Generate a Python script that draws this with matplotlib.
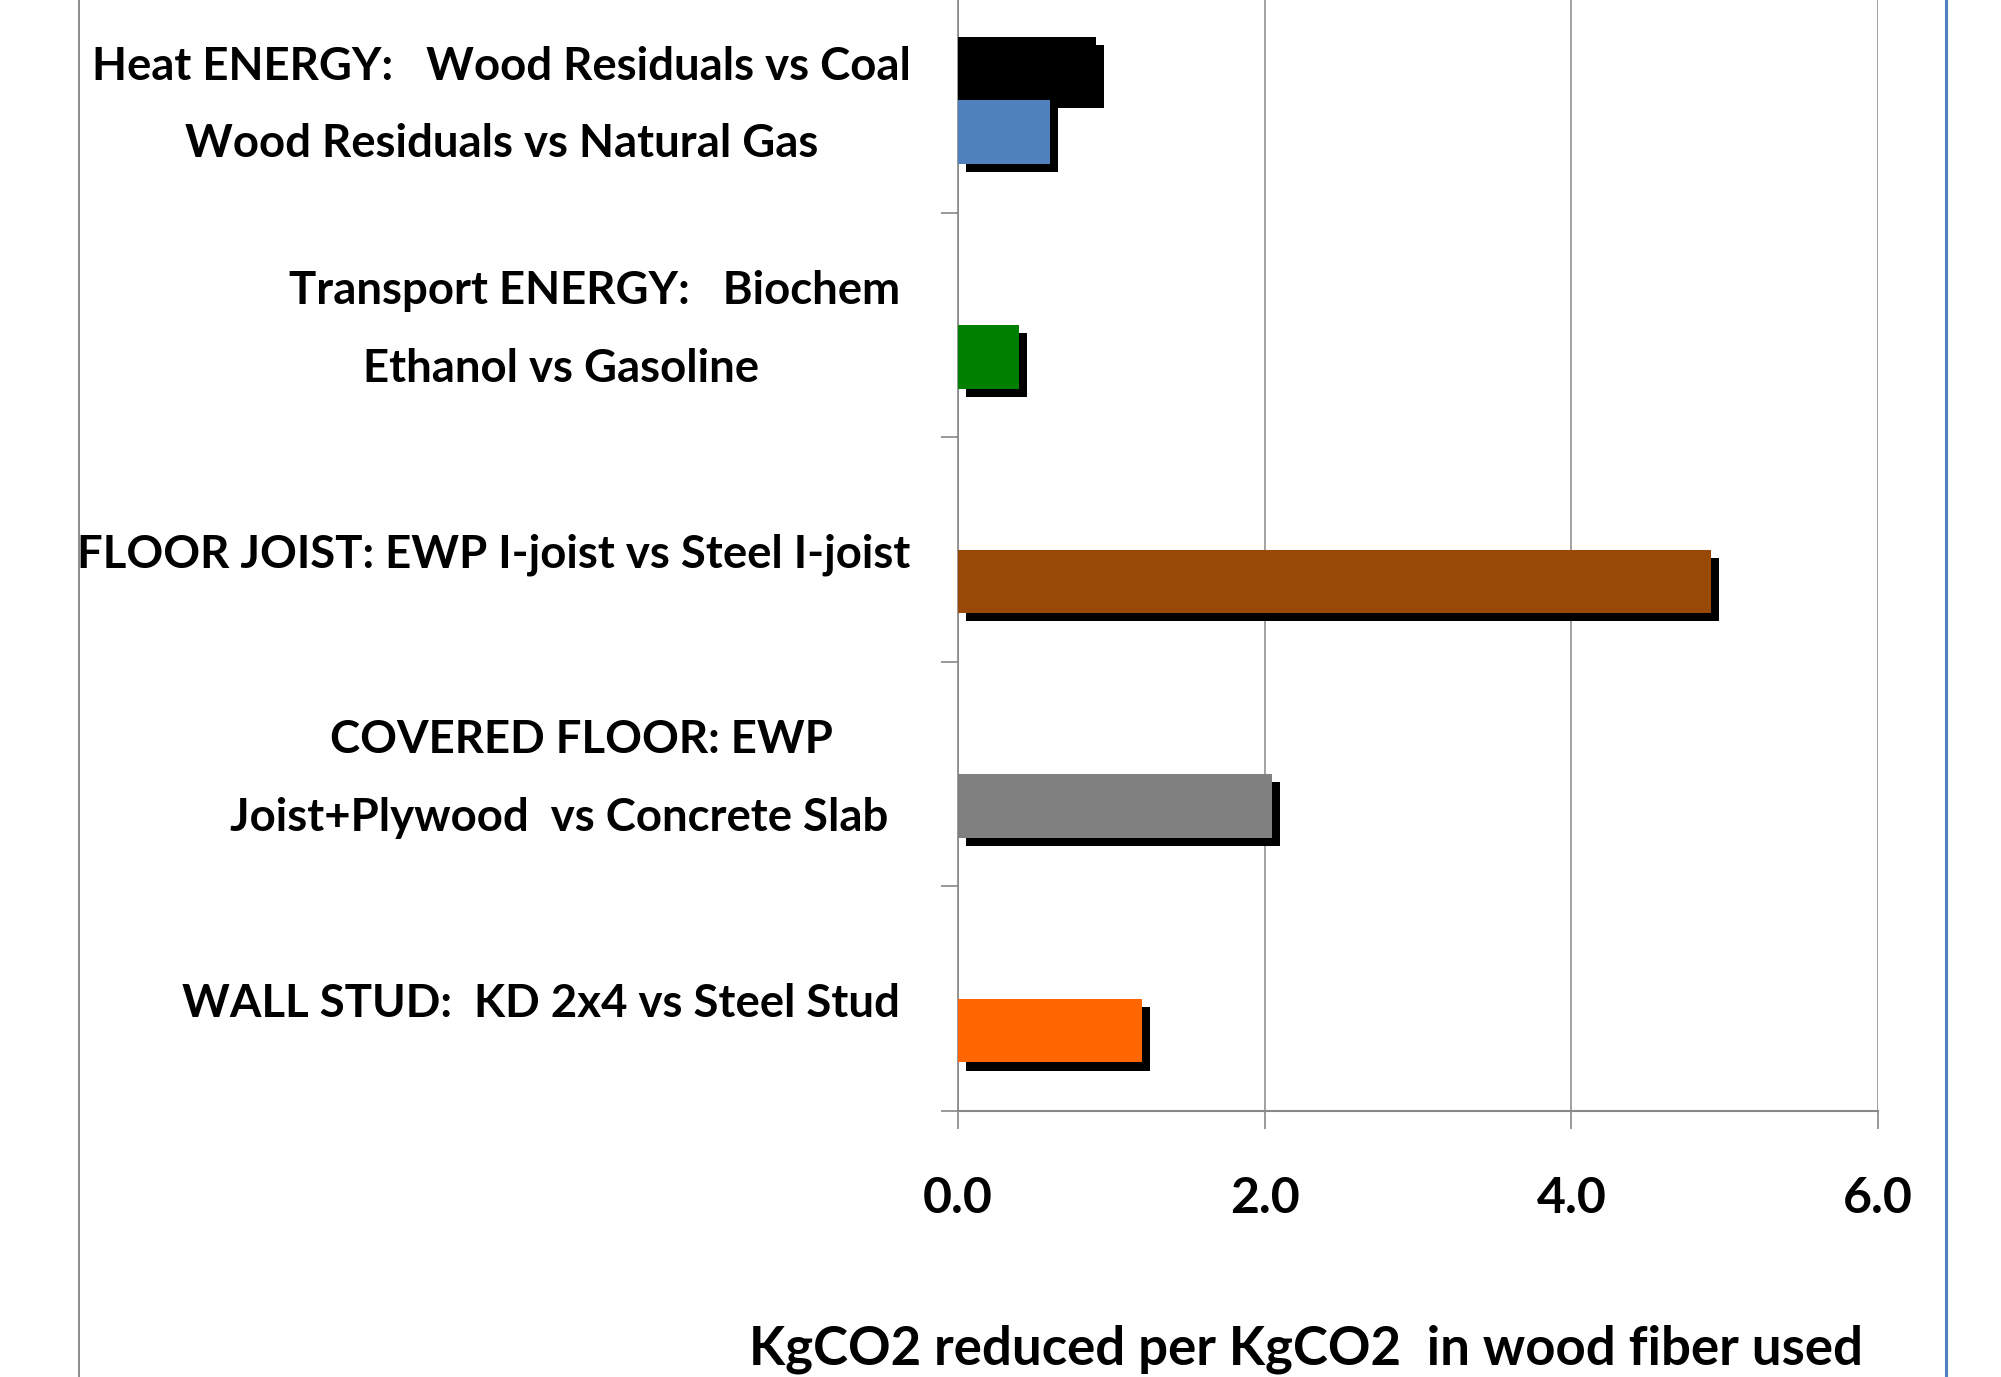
import matplotlib
matplotlib.use("Agg")
import matplotlib.pyplot as plt
import matplotlib.patheffects as pe
from matplotlib.transforms import ScaledTranslation
import numpy as np

plt.rcParams["font.family"] = ["Lato", "DejaVu Sans"]
plt.rcParams["font.weight"] = "bold"

# categories listed bottom to top, as drawn
categories = [
    "WALL STUD:  KD 2x4 vs Steel Stud ",
    "  COVERED FLOOR: EWP\nJoist+Plywood  vs Concrete Slab  ",
    "FLOOR JOIST: EWP I-joist vs Steel I-joist",
    "Transport ENERGY:   Biochem \nEthanol vs Gasoline       ",
    "Heat ENERGY:   Wood Residuals vs Coal\nWood Residuals vs Natural Gas",
]
# second series (lower bar of each slot), one colour per category
main_values = [1.20, 2.05, 4.91, 0.40, 0.60]
main_colors = ["#FF6600", "#808080", "#984807", "#008000", "#4F81BD"]
# first series (upper bar), only the coal comparison has a value
coal_values = [0, 0, 0, 0, 0.90]
coal_color = "#000000"

xticks = [0.0, 2.0, 4.0, 6.0]
xlabel = "KgCO2 reduced per KgCO2  in wood fiber used"

fig = plt.figure(figsize=(20.01, 13.77), dpi=100)
ax = fig.add_axes([958 / 2001, 266 / 1377, 920 / 2001, 1123 / 1377])

pos = np.arange(len(categories)) + 0.5
bar_h = 0.284
shadow = [pe.SimplePatchShadow(offset=(5.8, -5.8), shadow_rgbFace="black", alpha=1.0), pe.Normal()]

for p, v in zip(pos, coal_values):
    if v > 0:
        b = ax.barh(p, v, height=bar_h, align="edge", color=coal_color, zorder=3)
        for r in b:
            r.set_path_effects(shadow)
bars = ax.barh(pos, main_values, height=-bar_h, align="edge", color=main_colors, zorder=3)
for r in bars:
    r.set_path_effects(shadow)

ax.set_xlim(0, 6)
ax.set_ylim(0, len(categories))

grid_c = "#888888"
ax.set_xticks(xticks)
ax.set_xticklabels([f"{t:.1f}" for t in xticks], fontsize=36, fontweight="bold")
ax.tick_params(axis="x", direction="out", length=13, width=1.2, color=grid_c, pad=34)
ax.xaxis.grid(True, color=grid_c, linewidth=1.1)
ax.set_axisbelow(True)

ax.set_yticks(pos)
ax.set_yticklabels(categories, fontsize=32.8, fontweight="bold", multialignment="center",
                   linespacing=2.04, va="center")
ax.tick_params(axis="y", which="major", length=0, pad=34)
# nudge the category labels down a little
for lbl in ax.get_yticklabels():
    lbl.set_transform(lbl.get_transform() + ScaledTranslation(0, -0.05, fig.dpi_scale_trans))
ax.set_yticks(np.arange(len(categories) + 1), minor=True)
ax.tick_params(axis="y", which="minor", direction="out", length=12, width=1.2, color=grid_c)

for s in ["top", "right"]:
    ax.spines[s].set_visible(False)
ax.spines["left"].set_color(grid_c)
ax.spines["bottom"].set_color(grid_c)
ax.spines["left"].set_linewidth(1.2)
ax.spines["bottom"].set_linewidth(1.5)

ax.set_xlabel(xlabel, fontsize=38, fontweight="bold", va="baseline")
ax.xaxis.set_label_coords(0.378, -0.226)

# chart area border lines visible at the edges of the crop
fig.add_artist(plt.Line2D([79 / 2001, 79 / 2001], [0, 1], color="#8C8C8C", linewidth=1.4))
fig.add_artist(plt.Line2D([1946 / 2001, 1946 / 2001], [0, 1], color="#4F81BD", linewidth=2.2))

fig.savefig("out.png", dpi=100)
